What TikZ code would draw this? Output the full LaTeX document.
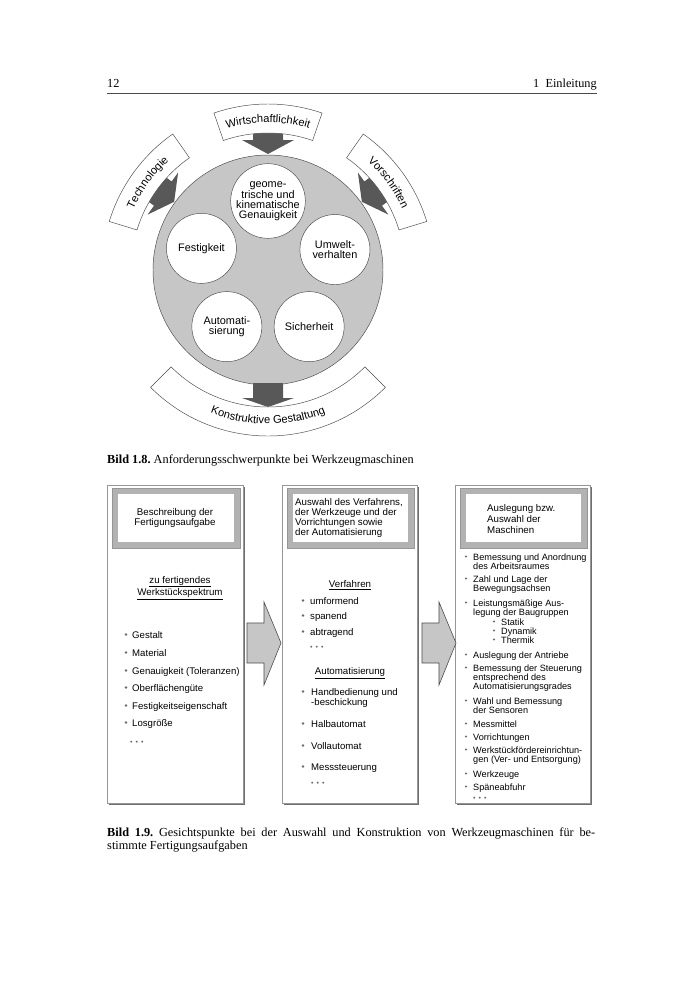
\documentclass[tikz,border=0pt]{standalone}
\usepackage{fontspec}
\setmainfont{Liberation Serif}
\setsansfont{Liberation Sans}
\frenchspacing
\usetikzlibrary{decorations.text}
\definecolor{ringgray}{RGB}{198,198,198}
\definecolor{darkarrow}{RGB}{88,88,88}
\definecolor{edgegray}{RGB}{75,75,75}
\definecolor{framegray}{RGB}{178,178,178}
\definecolor{boxline}{RGB}{150,150,150}
\definecolor{shadowgray}{RGB}{110,110,110}
\definecolor{dotgray}{RGB}{105,105,105}
\newcommand{\bandfont}{\sffamily\fontsize{9.5}{11}\selectfont}
\newcommand{\punkte}{{\color{dotgray}\fontsize{6}{6}\selectfont •\hspace{2.6pt}•\hspace{2.6pt}•}}
\newcommand{\zeilen}[1]{\begin{tabular}[t]{@{}l@{}}#1\end{tabular}}
\tikzset{
	feld/.style={circle, draw=edgegray, fill=white, minimum size=21mm, inner sep=0, align=center, font=\sffamily\fontsize{9.3}{8.5}\selectfont},
	band/.style={draw=edgegray, fill=white, line width=0.4pt},
	bandtext/.style={decoration={text along path, text align=center, text={|\bandfont|#1}}},
	pfeil/.style={fill=darkarrow},
	blockpfeil/.style={draw=edgegray, fill=ringgray, line width=0.5pt},
	punkt/.style={fill=dotgray},
	kopf/.style={inner sep=0, align=left, font=\sffamily\fontsize{8.3}{8.7}\selectfont},
	eintrag/.style={anchor=base west, inner sep=0, font=\sffamily\fontsize{8.2}{8.6}\selectfont},
	kleineintrag/.style={eintrag, font=\sffamily\fontsize{7.8}{7.8}\selectfont},
	buchtext/.style={inner sep=0, font=\fontsize{10.5}{12.5}\selectfont}
}
\begin{document}
\begin{tikzpicture}[x=0.3mm, y=-0.3mm]
	\useasboundingbox (0,0) rectangle (700,1000);
	\node[buchtext, anchor=base west] (seite) at (107,87) {12};
	\node[buchtext, anchor=base east] (kapitel) at (597,87) {1\enspace Einleitung};
	\draw[edgegray, line width=0.7pt] (107,93) -- (597,93);

	\begin{scope}[shift={(268,270)}, y=0.3mm]
		\filldraw[fill=ringgray, draw=edgegray] (0,0) circle (115);
		\foreach \w/\T [evaluate=\w as \a using \w+19, evaluate=\w as \b using \w-19] in {90/Wirtschaftlichkeit,144/Technologie,36/Vorschriften}
			{
				\fill[pfeil, rotate=\w-90] (-15,138) -- (15,138) -- (15,130) -- (26,130) -- (0,116) -- (-26,130) -- (-15,130) -- cycle;
				\draw[band] (\a:137) arc (\a:\b:137) -- (\b:166) arc (\b:\a:166) -- cycle;
				\path[decorate, bandtext/.expanded=\T] (\a:147.5) arc (\a:\b:147.5);
			}
		\fill[pfeil] (-15,-113) -- (15,-113) -- (15,-128) -- (26,-128) -- (0,-137) -- (-26,-128) -- (-15,-128) -- cycle;
		\draw[band] (225:137) arc (225:315:137) -- (315:166) arc (315:225:166) -- cycle;
		\path[decorate, bandtext=Konstruktive Gestaltung] (225:154) arc (225:315:154);
		\node[feld] (geo) at (90:69) {geome-\\trische und\\kinematische\\Genauigkeit};
		\foreach \w/\n/\T in {162/fest/Festigkeit, 17/umwelt/{Umwelt-\\verhalten}, 234/auto/{Automati-\\sierung}, 306/sicher/Sicherheit}
			{
				\node[feld] (\n) at (\w:70) {\T};
			}
	\end{scope}
	\node[buchtext, anchor=base west] (bild8) at (107,463) {\textbf{Bild 1.8.} Anforderungsschwerpunkte bei Werkzeugmaschinen};

	\foreach \l/\r in {107/243, 282/417, 455/590}
		{
			\fill[shadowgray] (\l+1.5,486.5) rectangle (\r+1.5,804.5);
			\draw[boxline, fill=white] (\l,485) rectangle (\r,803);
			\filldraw[fill=framegray, draw=boxline] (\l+5,488) rectangle (\r-3,548);
			\fill[white] (\l+11,494) rectangle (\r-9,542);
		}
	\foreach \x in {247,422}
		{
			\draw[blockpfeil] (\x,623) -- (\x+17,623) -- (\x+17,602) -- (\x+34,643) -- (\x+17,685) -- (\x+17,663) -- (\x,663) -- cycle;
		}

	\node[kopf, align=center] (kopfa) at (175,518) {Beschreibung der\\Fertigungsaufgabe};
	\node[kopf, anchor=west] (kopfb) at (295,518) {Auswahl des Verfahrens,\\der Werkzeuge und der\\Vorrichtungen sowie\\der Automatisierung};
	\node[kopf, anchor=west, font=\sffamily\fontsize{8.3}{9.8}\selectfont] (kopfc) at (487,519) {Auslegung bzw.\\Auswahl der\\Maschinen};

	\node[kopf, align=center] (spektrum) at (180,588) {\underline{zu fertigendes}\\\underline{Werkstückspektrum}};
	\foreach \y/\T [count=\i] in {635/Gestalt, 653/Material, 671/{Genauigkeit (Toleranzen)}, 688/Oberflächengüte, 706/Festigkeitseigenschaft, 723/Losgröße}
		{
			\fill[punkt] (126,\y-0.5) circle (1.3);
			\node[eintrag] (a\i) at (132,\y+3) {\T};
		}
	\node[eintrag] (arest) at (130,744) {\punkte};

	\node[kopf] (verf) at (350,585) {\underline{Verfahren}};
	\foreach \y/\T [count=\i] in {601/umformend, 616/spanend, 632/abtragend}
		{
			\fill[punkt] (303,\y-0.5) circle (1.3);
			\node[eintrag] (b\i) at (310,\y+3) {\T};
		}
	\node[eintrag] (brest) at (310,649) {\punkte};
	\node[kopf] (autom) at (350,673) {\underline{Automatisierung}};
	\foreach \y/\T [count=\i] in {692/{Handbedienung und\\-beschickung}, 724/Halbautomat, 746/Vollautomat, 767/Messsteuerung}
		{
			\fill[punkt] (303,\y-0.5) circle (1.3);
			\node[eintrag] (bb\i) at (311,\y+3) {\zeilen{\T}};
		}
	\node[eintrag] (bbrest) at (311,785) {\punkte};

	\foreach \y/\T [count=\i] in {557/{Bemessung und Anordnung\\des Arbeitsraumes}, 579/{Zahl und Lage der\\Bewegungsachsen}, 603/{Leistungsmäßige Aus-\\legung der Baugruppen}, 655/Auslegung der Antriebe, 668/{Bemessung der Steuerung\\entsprechend des\\Automatisierungsgrades}, 701/{Wahl und Bemessung\\der Sensoren}, 724/Messmittel, 737/Vorrichtungen, 750/{Werkstückfördereinrichtun-\\gen (Ver- und Entsorgung)}, 774/Werkzeuge, 787/Späneabfuhr}
		{
			\fill[punkt] (466,\y-0.5) circle (1.2);
			\node[kleineintrag] (c\i) at (473,\y+3) {\zeilen{\T}};
		}
	\foreach \y/\T [count=\i] in {622/Statik, 631/Dynamik, 640/Thermik}
		{
			\fill[punkt] (494,\y-0.5) circle (1.2);
			\node[kleineintrag] (cc\i) at (501,\y+3) {\T};
		}
	\node[eintrag] (crest) at (473,800) {\punkte};

	\node[buchtext, anchor=base west] (bild9a) at (107,836) {\makebox[146.4mm][s]{\textbf{Bild 1.9.} Gesichtspunkte bei der Auswahl und Konstruktion von Werkzeugmaschinen für be-}};
	\node[buchtext, anchor=base west] (bild9b) at (107,849) {stimmte Fertigungsaufgaben};
\end{tikzpicture}
\end{document}
